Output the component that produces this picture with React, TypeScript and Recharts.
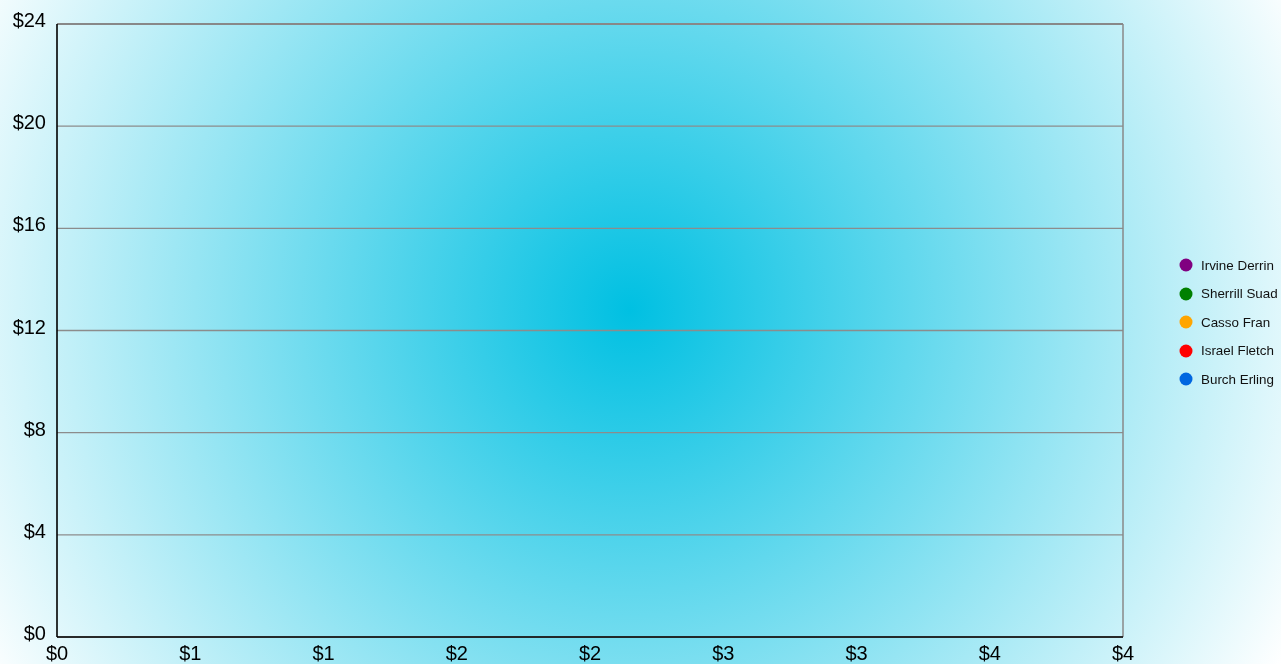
import React from 'react';
import { ScatterChart, Scatter, XAxis, YAxis, CartesianGrid, Legend, ReferenceLine } from 'recharts';

// series shown in the legend (the chart has no visible points)
const seriesNames = ['Irvine Derrin', 'Sherrill Suad', 'Casso Fran', 'Israel Fletch', 'Burch Erling'];
const seriesColors = ['#800080', '#008000', '#FFA500', '#FF0000', '#0066E0'];
const seriesData: { x: number; y: number }[][] = [[], [], [], [], []];

const xTicks = [0, 0.5, 1, 1.5, 2, 2.5, 3, 3.5, 4];
const yTicks = [0, 4, 8, 12, 16, 20, 24];

const money = (v: number) => `$${Math.round(v)}`;

function LegendList() {
    return (
        <div style={{ fontFamily: 'Liberation Sans, Arial, sans-serif', fontSize: 13.4, color: '#111' }}>
            {seriesNames.map((name, i) => (
                <div key={name} style={{ display: 'flex', alignItems: 'center', height: 28.5 }}>
                    <svg width={14} height={14} style={{ marginRight: 8 }}>
                        <circle cx={7} cy={7} r={6.5} fill={seriesColors[i]} />
                    </svg>
                    <span>{name}</span>
                </div>
            ))}
        </div>
    );
}

export default function App() {
    return (
        <div
            style={{
                position: 'fixed',
                left: 0,
                top: 0,
                width: 1281,
                height: 664,
                background: 'radial-gradient(circle farthest-corner at 630px 310px, #00c0e2 0%, #ffffff 100%)',
                fontFamily: 'Liberation Sans, Arial, sans-serif',
            }}
        >
            <ScatterChart width={1281} height={664} margin={{ top: 24, right: 56, left: 0, bottom: 0 }}>
                <CartesianGrid vertical={false} stroke="#8c8c8c" strokeWidth={1.3} strokeDasharray="" />
                <XAxis
                    type="number"
                    dataKey="x"
                    domain={[0, 4]}
                    allowDataOverflow
                    ticks={xTicks}
                    tickFormatter={money}
                    interval={0}
                    height={27}
                    stroke="#000"
                    strokeWidth={1.6}
                    tickLine={false}
                    tickMargin={3}
                    tick={{ fill: '#000', fontSize: 20 }}
                />
                <YAxis
                    type="number"
                    dataKey="y"
                    domain={[0, 24]}
                    allowDataOverflow
                    ticks={yTicks}
                    tickFormatter={money}
                    interval={0}
                    width={57}
                    stroke="#000"
                    strokeWidth={1.6}
                    tickLine={false}
                    tickMargin={5}
                    tick={{ fill: '#000', fontSize: 20, dy: -4 }}
                />
                <ReferenceLine y={24} stroke="#888" strokeWidth={2} />
                <ReferenceLine x={4} stroke="#888" strokeWidth={1.5} />
                {seriesNames.map((name, i) => (
                    <Scatter
                        key={name}
                        name={name}
                        data={seriesData[i]}
                        fill={seriesColors[i]}
                        legendType="circle"
                        isAnimationActive={false}
                    />
                ))}
                <Legend
                    layout="horizontal"
                    verticalAlign="middle"
                    align="right"
                    content={() => <LegendList />}
                    wrapperStyle={{ left: 1179, top: 251, width: 102 }}
                />
            </ScatterChart>
        </div>
    );
}
